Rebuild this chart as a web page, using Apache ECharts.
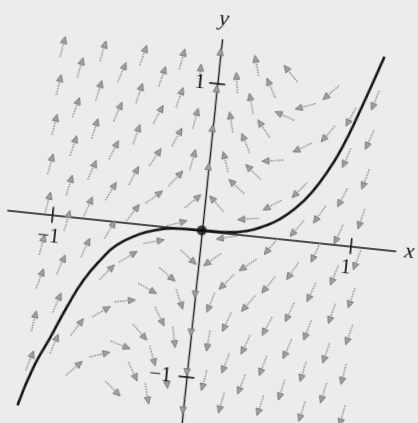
<!DOCTYPE html>
<html>
<head>
<meta charset="utf-8">
<script src="https://cdn.jsdelivr.net/npm/echarts@6/dist/echarts.min.js"></script>
<style>
  html, body { margin: 0; padding: 0; background: #ececec; }
  #page { position: relative; width: 418px; height: 423px; overflow: hidden; background: #ececec; }
  /* the printed plate sits slightly skewed on the page */
  #chart { position: absolute; left: 0; top: 0; width: 418px; height: 460px;
           transform-origin: 201.8px 230.4px; transform: rotate(6deg); }
</style>
</head>
<body>
<div id="page"><div id="chart"></div></div>
<script>
// Direction field: arrow centre (x, y) and arrow heading in degrees, row by row from the top.
const fieldX = [
  -1.05, -0.78, -0.51, -0.25, 0.25, 0.48,
  -0.92, -0.64, -0.37, -0.12, 0.13, 0.36, 0.76, 1.06,
  -1.05, -0.78, -0.51, -0.24, 0.24, 0.47, 0.60, 0.91,
  -0.92, -0.64, -0.37, -0.12, 0.12, 0.34, 0.77, 1.05,
  -1.05, -0.78, -0.50, -0.23, 0.23, 0.61, 0.91,
  -0.91, -0.64, -0.36, -0.11, 0.11, 0.30, 0.42, 1.05,
  -1.05, -0.77, -0.49, -0.21, 0.20, 0.62, 0.91,
  -0.91, -0.63, -0.34, -0.08, 0.08, 0.45, 0.77, 1.05,
  -1.04, -0.77, -0.47, -0.17, 0.30, 0.63, 0.91,
  -0.90, -0.61, -0.31, 0.17, 0.47, 0.77, 1.05,
  -1.05, -0.76, -0.47, -0.07, 0.09, 0.33, 0.63, 0.91,
  -0.91, -0.60, -0.20, 0.20, 0.48, 0.77, 1.04,
  -1.04, -0.46, -0.32, -0.10, 0.11, 0.36, 0.64, 0.92,
  -0.91, -0.61, -0.22, 0.23, 0.50, 0.77, 1.05,
  -1.05, -0.76, -0.34, -0.11, 0.12, 0.37, 0.65, 0.91,
  -0.90, -0.59, -0.46, -0.24, 0.25, 0.50, 0.77, 1.04,
  -1.05, -0.75, -0.36, -0.13, 0.12, 0.37, 0.64, 0.92,
  -0.48, -0.25, 0.25, 0.51, 0.79, 1.06
];
const fieldY = [
  1.14, 1.14, 1.14, 1.14, 1.15, 1.12,
  1.01, 1.01, 1.01, 1.05, 1.02, 1.01, 1.02, 1.00,
  0.88, 0.87, 0.88, 0.88, 0.89, 0.83, 0.91, 0.87,
  0.74, 0.74, 0.75, 0.75, 0.75, 0.73, 0.74, 0.73,
  0.61, 0.61, 0.60, 0.61, 0.62, 0.63, 0.59,
  0.48, 0.48, 0.46, 0.47, 0.48, 0.43, 0.52, 0.46,
  0.34, 0.33, 0.32, 0.33, 0.32, 0.34, 0.32,
  0.21, 0.20, 0.19, 0.19, 0.19, 0.22, 0.19, 0.19,
  0.08, 0.08, 0.07, 0.03, 0.11, 0.08, 0.07,
  -0.03, -0.06, -0.11, -0.03, -0.06, -0.07, -0.09,
  -0.21, -0.20, -0.23, -0.19, -0.19, -0.20, -0.21, -0.21,
  -0.33, -0.35, -0.32, -0.33, -0.32, -0.34, -0.35,
  -0.44, -0.53, -0.43, -0.48, -0.48, -0.46, -0.49, -0.47,
  -0.59, -0.62, -0.61, -0.60, -0.60, -0.60, -0.60,
  -0.73, -0.74, -0.73, -0.74, -0.74, -0.74, -0.74, -0.74,
  -0.87, -0.91, -0.83, -0.88, -0.88, -0.87, -0.88, -0.87,
  -1.00, -1.02, -1.00, -1.02, -1.01, -1.01, -1.02, -1.01,
  -1.13, -1.14, -1.15, -1.14, -1.15, -1.15
];
const fieldAngle = [
  82, 79, 77, 81, 106, 135,
  79, 73, 77, 90, 99, 119, -133, -106,
  82, 79, 78, 76, 106, 162, -159, -113,
  76, 72, 68, 81, 105, 130, -125, -108,
  82, 79, 77, 67, 118, -149, -108,
  78, 69, 62, 80, 109, 141, -171, -105,
  81, 72, 68, 53, 143, -129, -112,
  79, 65, 42, 45, 137, -146, -120, -103,
  81, 72, 58, 20, -170, -125, -109,
  80, 64, 16, -165, -124, -109, -105,
  80, 71, 37, -37, -139, -140, -118, -106,
  72, 51, -35, -129, -123, -109, -103,
  75, 11, -23, -66, -106, -125, -109, -103,
  73, 36, -59, -109, -112, -105, -103,
  82, 59, -43, -78, -94, -109, -108, -103,
  73, 19, -16, -69, -105, -105, -101, -98,
  74, 47, -59, -80, -99, -105, -101, -101,
  -39, -75, -100, -102, -102, -100
];

// Flow markers sitting on the y-axis (unstable direction).
const axisFlowY = [1.17, 0.92, 0.65, 0.39, -0.39, -0.65, -0.92, -1.18];
const axisFlowAngle = [90, 90, 90, 90, -90, -90, -90, -90];

// Stable curve through the equilibrium.
const curveX = [-1.10, -1.02, -0.93, -0.84, -0.75, -0.65, -0.555, -0.41, -0.30, -0.19, 0,
                0.17, 0.30, 0.425, 0.50, 0.60, 0.70, 0.80, 0.87, 0.96, 1.09];
const curveY = [-1.31, -1.04, -0.83, -0.61, -0.42, -0.27, -0.16, -0.07, -0.03, -0.007, 0,
                0.006, 0.028, 0.08, 0.125, 0.21, 0.33, 0.50, 0.65, 0.90, 1.30];

const equilibrium = [0, 0];
const xTicks = [-1, 1];
const yTicks = [-1, 1];

const ARROW = '#8d8d8d';
const INK = '#161616';
const SERIF = '"Liberation Serif", "DejaVu Serif", serif';

const arrowData = fieldX.map((x, i) => [x, fieldY[i], fieldAngle[i]])
  .concat(axisFlowY.map((y, i) => [0, y, axisFlowAngle[i]]));
const curveData = curveX.map((x, i) => [x, curveY[i]]);
// third field: 0 = tick on the x-axis, 1 = tick on the y-axis
const tickData = xTicks.map(v => [v, 0, 0]).concat(yTicks.map(v => [0, v, 1]));

const fmt = v => (v < 0 ? '\u2212' + Math.abs(v) : String(v));

function renderArrow(params, api) {
  const p = api.coord([api.value(0), api.value(1)]);
  const ang = api.value(2) * Math.PI / 180;
  const L = 21, headLen = 7, headHalf = 3.2;
  const ux = Math.cos(ang), uy = -Math.sin(ang);
  const nx = -uy, ny = ux;
  const tail = [p[0] - ux * L / 2, p[1] - uy * L / 2];
  const tip = [p[0] + ux * L / 2, p[1] + uy * L / 2];
  const base = [tip[0] - ux * headLen, tip[1] - uy * headLen];
  return {
    type: 'group',
    children: [
      { type: 'line',
        shape: { x1: tail[0], y1: tail[1], x2: base[0], y2: base[1] },
        style: { stroke: ARROW, lineWidth: 1.4, lineDash: [1.6, 1.1] } },
      { type: 'polygon',
        shape: { points: [tip,
          [base[0] + nx * headHalf, base[1] + ny * headHalf],
          [base[0] - nx * headHalf, base[1] - ny * headHalf]] },
        style: { fill: '#a0a0a0', stroke: '#7b7b7b', lineWidth: 1 } }
    ]
  };
}

// crossing tick mark plus its numeric label
function renderTick(params, api) {
  const xv = api.value(0), yv = api.value(1);
  const p = api.coord([xv, yv]);
  const h = 8;
  const onX = api.value(2) === 0;
  const label = fmt(onX ? xv : yv);
  return {
    type: 'group',
    children: [
      { type: 'line',
        shape: onX ? { x1: p[0], y1: p[1] - h, x2: p[0], y2: p[1] + h }
                   : { x1: p[0] - h, y1: p[1], x2: p[0] + h, y2: p[1] },
        style: { stroke: INK, lineWidth: 1.6 } },
      { type: 'text',
        x: onX ? p[0] - (xv < 0 ? 2 : 3) : p[0] - (yv < 0 ? 15 : 12),
        y: onX ? p[1] + 22 : p[1] + 1,
        style: { text: label, fill: INK, fontFamily: SERIF, fontSize: 21,
                 align: onX ? 'center' : 'right', verticalAlign: 'middle' } }
    ]
  };
}

const chart = echarts.init(document.getElementById('chart'));
chart.setOption({
  backgroundColor: 'transparent',
  animation: false,
  grid: { left: 6.8, top: 38.65, width: 390, height: 405.6,
          containLabel: false, outerBoundsMode: 'none' },
  xAxis: {
    type: 'value', min: -1.3, max: 1.3,
    axisLine: { show: true, onZero: true, lineStyle: { color: INK, width: 1.5 } },
    axisTick: { show: false },
    splitLine: { show: false },
    axisLabel: { show: false },
    name: 'x', nameLocation: 'end', nameGap: 9,
    nameTextStyle: { color: INK, fontFamily: SERIF, fontStyle: 'italic', fontSize: 22 }
  },
  yAxis: {
    type: 'value', min: -1.45, max: 1.3,
    axisLine: { show: true, onZero: true, lineStyle: { color: INK, width: 1.4 } },
    axisTick: { show: false },
    splitLine: { show: false },
    axisLabel: { show: false },
    name: 'y', nameLocation: 'end', nameGap: 9,
    nameTextStyle: { color: INK, fontFamily: SERIF, fontStyle: 'italic', fontSize: 22 }
  },
  series: [
    { type: 'custom', name: 'field', renderItem: renderArrow, data: arrowData,
      clip: false, z: 2, silent: true },
    { type: 'custom', name: 'ticks', renderItem: renderTick, data: tickData,
      clip: false, z: 3, silent: true },
    { type: 'line', name: 'stable curve', data: curveData, smooth: 0.5,
      showSymbol: false, lineStyle: { color: INK, width: 2.6 }, z: 4, silent: true },
    { type: 'scatter', name: 'equilibrium', data: [equilibrium], symbol: 'circle',
      symbolSize: 10, itemStyle: { color: '#111' }, z: 5, silent: true }
  ]
});
</script>
</body>
</html>
